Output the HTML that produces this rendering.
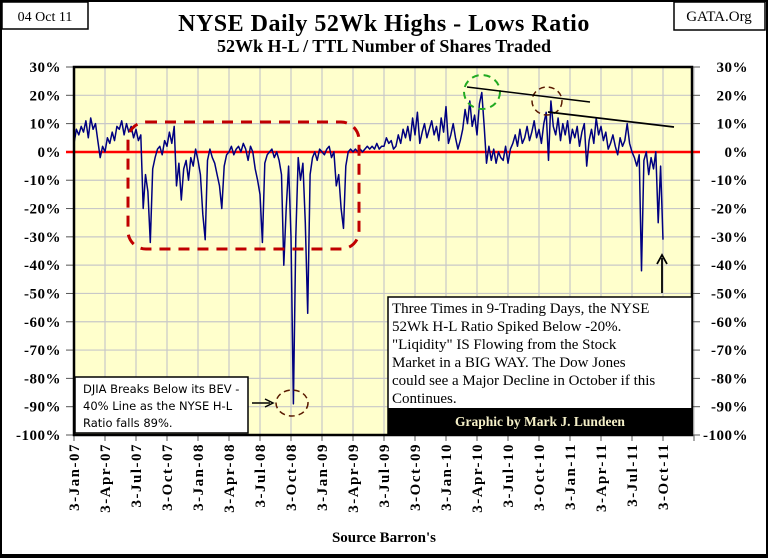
<!DOCTYPE html>
<html><head><meta charset="utf-8">
<style>
html,body{margin:0;padding:0;background:#fff;}
svg{display:block;}
text{font-family:"Liberation Serif",serif;}
</style></head>
<body>
<svg id="chart" width="768" height="558" viewBox="0 0 768 558" xmlns="http://www.w3.org/2000/svg">
<rect x="1" y="1" width="766" height="555" fill="#fff" stroke="#000" stroke-width="2"/>
<rect x="0" y="554" width="768" height="4" fill="#000"/>
<rect x="2" y="2" width="86" height="27" fill="#fff" stroke="#000" stroke-width="1.5"/>
<text x="45" y="21" font-size="14" text-anchor="middle">04 Oct 11</text>
<rect x="674" y="2" width="91" height="28" fill="#fff" stroke="#000" stroke-width="1.5"/>
<text x="719" y="21" font-size="15" text-anchor="middle">GATA.Org</text>
<text x="384" y="31" font-size="24" font-weight="bold" text-anchor="middle" letter-spacing="0.5">NYSE Daily 52Wk Highs - Lows Ratio</text>
<text x="384" y="52" font-size="18" font-weight="bold" text-anchor="middle">52Wk H-L / TTL Number of Shares Traded</text>
<rect x="74" y="67" width="618" height="368" fill="#ffffcc"/>
<g id="grid"></g>
<g id="axes"></g>
<line x1="66" y1="152" x2="700" y2="152" stroke="#ff0000" stroke-width="2.5"/>
<path id="series" fill="none" stroke="#000080" stroke-width="1.5" stroke-linejoin="round"/>
<rect x="74" y="67" width="618" height="368" fill="none" stroke="#000" stroke-width="2.5"/>
<rect x="128" y="122" width="231" height="127" rx="18" fill="none" stroke="#c00000" stroke-width="3" stroke-dasharray="11,8"/>
<ellipse cx="292" cy="403" rx="16" ry="13" fill="none" stroke="#5a1a00" stroke-width="1.5" stroke-dasharray="6,4"/>
<ellipse cx="482" cy="92" rx="18" ry="17" fill="none" stroke="#22aa22" stroke-width="2" stroke-dasharray="7,5"/>
<ellipse cx="547" cy="101" rx="15" ry="14" fill="none" stroke="#5a1a00" stroke-width="1.5" stroke-dasharray="6,4"/>
<line x1="467" y1="87" x2="590" y2="102" stroke="#000" stroke-width="1.5"/>
<line x1="548" y1="112" x2="674" y2="127" stroke="#000" stroke-width="1.8"/>
<line x1="252" y1="403" x2="270" y2="403" stroke="#000" stroke-width="1.5"/>
<path d="M265,399 L273,403 L265,407" fill="none" stroke="#000" stroke-width="1.5"/>
<line x1="662" y1="293" x2="662" y2="258" stroke="#000" stroke-width="1.8"/>
<path d="M657,264 L662,255 L667,264" fill="none" stroke="#000" stroke-width="1.8"/>
<rect x="75" y="377" width="173" height="56" fill="#fff" stroke="#000" stroke-width="1.5"/>
<g>
<text x="83" y="393" font-size="11.5" style="font-family:'DejaVu Sans',sans-serif">DJIA Breaks Below its BEV -</text>
<text x="83" y="410" font-size="11.5" style="font-family:'DejaVu Sans',sans-serif">40% Line as the NYSE H-L</text>
<text x="83" y="427" font-size="11.5" style="font-family:'DejaVu Sans',sans-serif">Ratio falls  89%.</text>
</g>
<rect x="388" y="297" width="304" height="138" fill="#fff" stroke="#000" stroke-width="1.5"/>
<g font-size="15">
<text x="392" y="313">Three Times  in 9-Trading Days, the NYSE</text>
<text x="392" y="331">52Wk H-L Ratio Spiked Below -20%.</text>
<text x="392" y="349">"Liqidity" IS Flowing from the Stock</text>
<text x="392" y="367">Market in a BIG WAY.  The Dow Jones</text>
<text x="392" y="385">could see a Major Decline in October if this</text>
<text x="392" y="403">Continues.</text>
</g>
<rect x="388" y="408" width="304" height="27" fill="#000"/>
<text x="540" y="426" font-size="13.5" font-weight="bold" fill="#f5f0c8" text-anchor="middle">Graphic by Mark J. Lundeen</text>
<text x="384" y="542" font-size="15" font-weight="bold" text-anchor="middle">Source Barron's</text>
</svg>
<script>
const yTicks=[30,20,10,0,-10,-20,-30,-40,-50,-60,-70,-80,-90,-100];
const xLabels=["3-Jan-07","3-Apr-07","3-Jul-07","3-Oct-07","3-Jan-08","3-Apr-08","3-Jul-08","3-Oct-08","3-Jan-09","3-Apr-09","3-Jul-09","3-Oct-09","3-Jan-10","3-Apr-10","3-Jul-10","3-Oct-10","3-Jan-11","3-Apr-11","3-Jul-11","3-Oct-11"];
const weeklyRatio=[3,8,6,9,7,11,5,12,8,10,
4,-2,2,0,5,3,7,4,9,8,
11,6,10,7,9,5,8,4,6,-20,
-8,-14,-32,-6,-2,1,2,-1,4,2,
7,3,9,-12,-4,-17,-6,-3,-10,-2,
-5,1,-3,-8,-22,-31,-3,1,-2,-4,
-8,-12,-20,-5,-1,0,2,-1,1,2,
0,3,1,-3,2,0,-6,-10,-15,-32,
-4,-1,0,1,-2,0,-3,-8,-40,-20,
-5,-30,-89,-30,-2,-10,-4,-25,-57,-8,
-2,0,-3,1,0,-1,1,2,-2,0,
-12,-8,-20,-27,-5,0,1,0,1,0,
1,0,1,2,1,2,1,3,1,2,
2,5,3,4,1,2,6,3,8,5,
9,4,12,6,14,3,7,10,5,8,
11,6,9,4,12,7,16,3,6,10,
5,1,4,8,15,10,18,9,13,6,
17,21,9,-4,2,-3,1,-4,0,-2,
-3,2,-4,1,3,6,2,8,3,5,
9,4,7,11,5,8,3,10,14,-3,
18,9,6,12,4,10,6,11,3,8,
5,9,2,7,10,-5,4,8,3,12,
6,9,4,7,1,3,6,2,-1,5,
2,4,10,3,0,-2,-5,-1,-42,-3,
0,-8,-2,-6,0,-25,-5,-31];
const NS='http://www.w3.org/2000/svg';
const L=74,R=692,T=67,B=435,QW=31,WEEKS_PER_Q=13;
function yS(v){return T+(30-v)*(B-T)/130;}
function xQ(i){return L+i*QW;}
function xW(w){return L+w*QW/WEEKS_PER_Q;}
const grid=document.getElementById('grid'),axes=document.getElementById('axes');
function mk(tag,at,parent){const e=document.createElementNS(NS,tag);for(const k in at)e.setAttribute(k,at[k]);parent.appendChild(e);return e;}
yTicks.forEach(v=>{
  const y=yS(v);
  const g=mk('line',{x1:L,x2:R,y1:y,y2:y,stroke:'#c8c8c8','stroke-width':1.2},grid);
  
  
  mk('line',{x1:L-8,x2:L,y1:y,y2:y,stroke:'#555','stroke-width':1},axes);
  mk('line',{x1:R,x2:R+8,y1:y,y2:y,stroke:'#555','stroke-width':1},axes);
  const t1=mk('text',{x:61,y:y+5,'font-size':15,'font-weight':'bold','text-anchor':'end','letter-spacing':0.5},axes);
  t1.textContent=v+'%';
  
  
  const t2=mk('text',{x:748,y:y+5,'font-size':15,'font-weight':'bold','text-anchor':'end','letter-spacing':0.5},axes);
  t2.textContent=v+'%';
  
  
});
for(let i=0;i<=xLabels.length;i++){
  const x=xQ(i);
  const g=mk('line',{x1:x,x2:x,y1:T,y2:B,stroke:'#c8c8c8','stroke-width':1.2},grid);
  
  
  mk('line',{x1:x,x2:x,y1:B,y2:B+6,stroke:'#555','stroke-width':1},axes);
}
xLabels.forEach((s,i)=>{
  const x=xQ(i);
  const t=mk('text',{x:0,y:0,'font-size':15,'font-weight':'bold','text-anchor':'end','letter-spacing':1.5,transform:`translate(${x+5},443) rotate(-90)`},axes);
  t.textContent=s;
  
  
});
let d='';
weeklyRatio.forEach((v,i)=>{d+=(i?'L':'M')+xW(i).toFixed(1)+','+yS(v).toFixed(1);});
document.getElementById('series').setAttribute('d',d);
</script>
</body></html>
